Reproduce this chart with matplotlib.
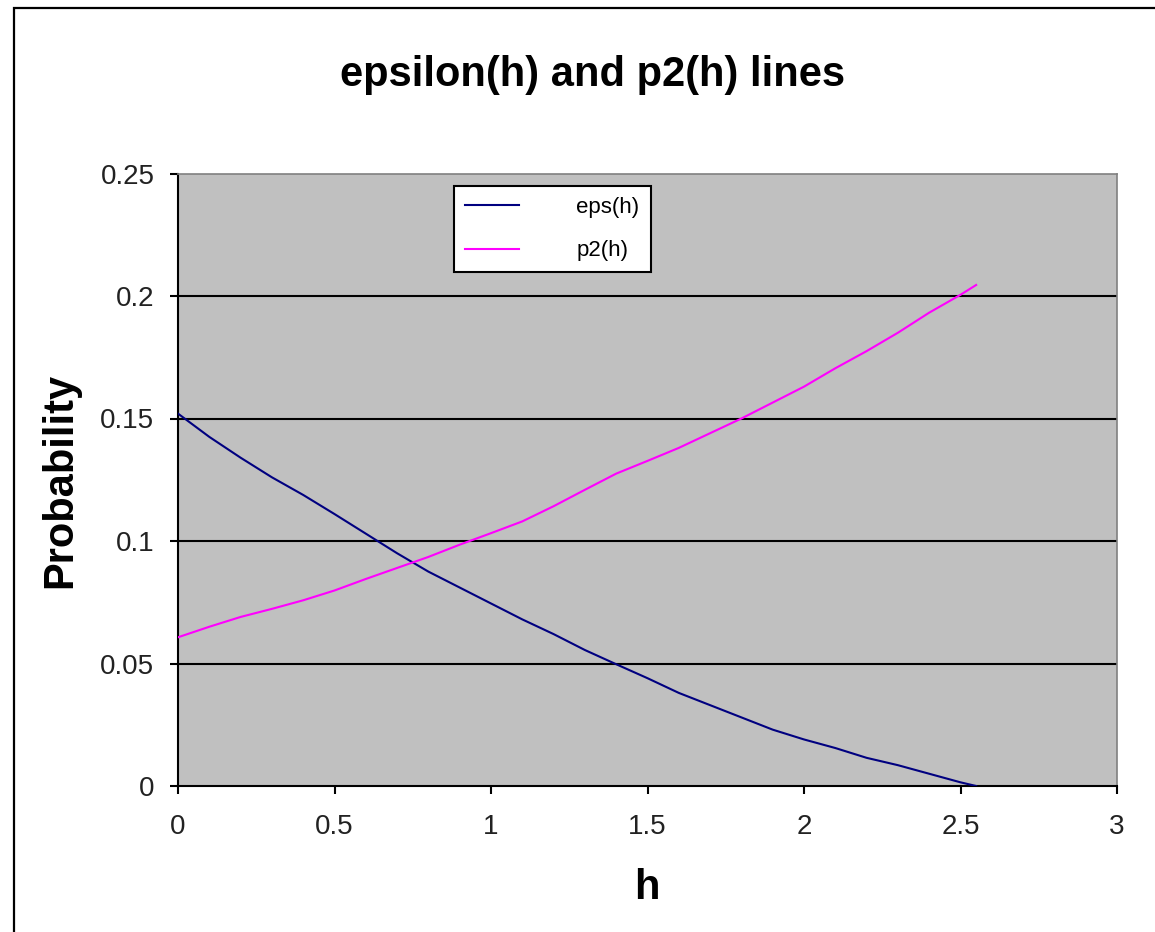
import matplotlib
matplotlib.use("Agg")
import matplotlib.pyplot as plt
from matplotlib.patches import Rectangle

plt.rcParams["font.family"] = ["Liberation Sans", "DejaVu Sans"]

# Data
h = [0.0, 0.1, 0.2, 0.3, 0.4, 0.5, 0.6, 0.7, 0.8, 0.9, 1.0, 1.1, 1.2, 1.3,
     1.4, 1.5, 1.6, 1.7, 1.8, 1.9, 2.0, 2.1, 2.2, 2.3, 2.4, 2.5, 2.55]
eps = [0.152, 0.1425, 0.134, 0.126, 0.1188, 0.111, 0.103, 0.095, 0.0875,
       0.081, 0.0745, 0.068, 0.062, 0.0555, 0.0497, 0.044, 0.038, 0.033,
       0.028, 0.023, 0.019, 0.0155, 0.0115, 0.0085, 0.005, 0.0015, 0.0]
p2 = [0.0607, 0.065, 0.069, 0.0723, 0.0758, 0.0798, 0.0845, 0.089, 0.0935,
      0.0985, 0.1032, 0.108, 0.1142, 0.1209, 0.1275, 0.1327, 0.138, 0.144,
      0.150, 0.1565, 0.163, 0.1705, 0.1775, 0.185, 0.1932, 0.2005, 0.2045]

x_ticks = [0, 0.5, 1, 1.5, 2, 2.5, 3]
x_tick_labels = ["0", "0.5", "1", "1.5", "2", "2.5", "3"]
y_ticks = [0, 0.05, 0.1, 0.15, 0.2, 0.25]
y_tick_labels = ["0", "0.05", "0.1", "0.15", "0.2", "0.25"]

W, H = 1155, 932
fig = plt.figure(figsize=(W / 100, H / 100), dpi=100)
fig.patch.set_facecolor("white")

# chart-area border (runs off the right and bottom edges)
fig.add_artist(Rectangle((14 / W, -0.1), 1.2, 1 - 8 / H + 0.1,
                         transform=fig.transFigure, fill=False,
                         edgecolor="black", linewidth=1.6))

left, right = 178 / W, 1117 / W
bottom, top = 1 - 786 / H, 1 - 173.5 / H
ax = fig.add_axes([left, bottom, right - left, top - bottom])
ax.set_facecolor("#C0C0C0")

ax.set_xlim(0, 3)
ax.set_ylim(0, 0.25)
ax.set_xticks(x_ticks)
ax.set_xticklabels(x_tick_labels)
ax.set_yticks(y_ticks)
ax.set_yticklabels(y_tick_labels)

for yv in y_ticks[1:-1]:
    ax.axhline(yv, color="black", linewidth=1.5, zorder=1)

ax.plot(h, eps, color="#000080", linewidth=1.5, label="eps(h)", zorder=3)
ax.plot(h, p2, color="#FF00FF", linewidth=1.5, label="p2(h)", zorder=3)

for side in ("left", "bottom"):
    ax.spines[side].set_color("black")
    ax.spines[side].set_linewidth(1.5)
for side in ("top", "right"):
    ax.spines[side].set_color("#808080")
    ax.spines[side].set_linewidth(1.2)

ax.tick_params(axis="both", direction="out", length=6, width=1.5,
               colors="black", labelsize=20)
ax.tick_params(axis="x", pad=14)
ax.tick_params(axis="y", pad=11)
for lbl in ax.get_xticklabels() + ax.get_yticklabels():
    lbl.set_color("#222222")

leg = ax.legend(loc="upper left", bbox_to_anchor=(0.294, 0.9796),
                borderaxespad=0, fontsize=16, handlelength=2.4,
                handletextpad=2.6, labelspacing=1.0, borderpad=0.5,
                fancybox=False, framealpha=1, edgecolor="black")
leg.get_frame().set_linewidth(1.5)

fig.text(593 / W, 1 - 75 / H, "epsilon(h) and p2(h) lines", ha="center",
         va="center", fontsize=30, fontweight="bold")
fig.text(60 / W, 1 - 480 / H, "Probability", ha="center", va="center",
         rotation=90, fontsize=30, fontweight="bold")
fig.text(647 / W, 1 - 888 / H, "h", ha="center", va="center",
         fontsize=30, fontweight="bold")

fig.savefig("out.png", dpi=100)
